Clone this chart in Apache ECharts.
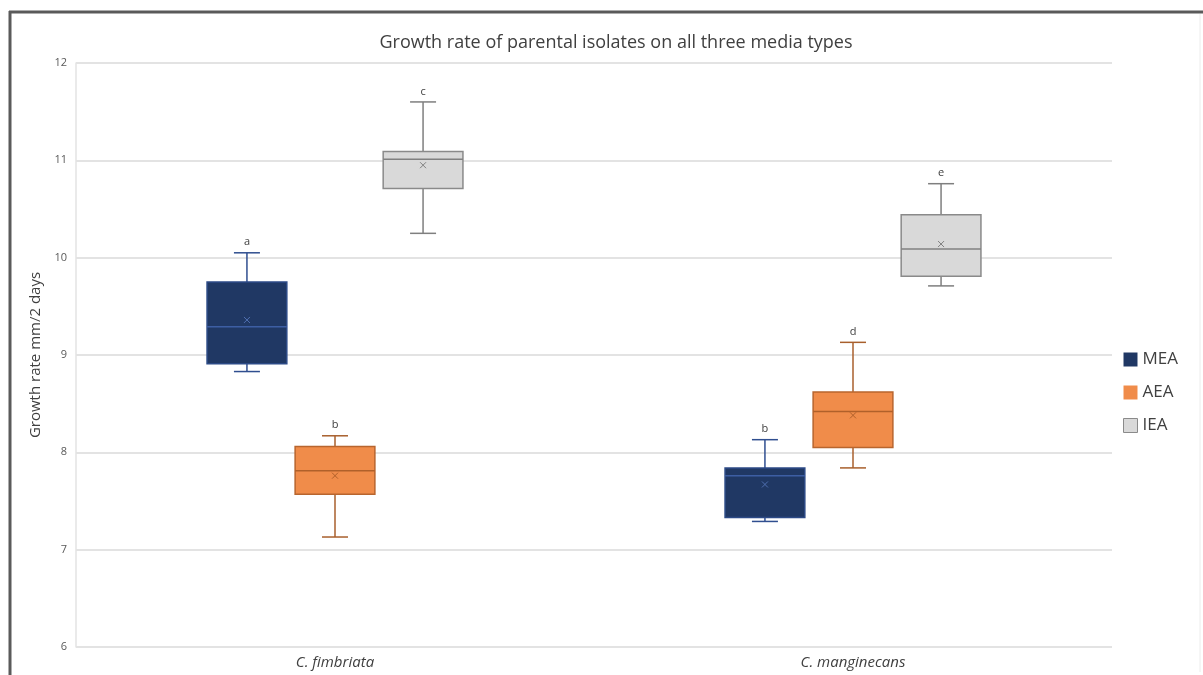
<!DOCTYPE html>
<html>
<head>
<meta charset="utf-8">
<script src="https://cdn.jsdelivr.net/npm/echarts@6/dist/echarts.min.js"></script>
<style>
  html, body { margin: 0; padding: 0; background: #fff; }
  #chart { width: 1203px; height: 675px; }
</style>
</head>
<body>
<div id="chart"></div>
<script>
// Species groups on the x axis
const categories = ['C. fimbriata', 'C. manginecans'];

// Box statistics per species: [min, Q1, median, Q3, max] in mm/2 days
const meaStats = [[8.83, 8.91, 9.29, 9.75, 10.05], [7.29, 7.33, 7.76, 7.84, 8.13]];
const aeaStats = [[7.13, 7.57, 7.81, 8.06, 8.17], [7.84, 8.05, 8.42, 8.62, 9.13]];
const ieaStats = [[10.25, 10.71, 11.01, 11.09, 11.60], [9.71, 9.81, 10.09, 10.44, 10.76]];

// Means (x markers)
const meaMeans = [9.36, 7.67];
const aeaMeans = [7.76, 8.38];
const ieaMeans = [10.95, 10.14];

// Significance letters above each box
const meaLetters = ['a', 'b'];
const aeaLetters = ['b', 'd'];
const ieaLetters = ['c', 'e'];

// Y axis ticks
const yTicks = [6, 7, 8, 9, 10, 11, 12];

function rows(stats, means, letters) {
  return stats.map((s, i) => [i, s[0], s[1], s[2], s[3], s[4], means[i], letters[i]]);
}

function boxRenderer(offsetFrac, st) {
  return function (params, api) {
    const cat = api.value(0);
    const band = api.size([1, 0])[0];
    const cx = api.coord([cat, 0])[0] + band * offsetFrac;
    const w = band * 0.154;
    const cap = 26;
    const y = k => api.coord([cat, api.value(k)])[1];
    const yMin = y(1), yQ1 = y(2), yMed = y(3), yQ3 = y(4), yMax = y(5), yMean = y(6);
    const letter = api.value(7);
    const ws = { stroke: st.whisker, lineWidth: 1.5 };
    const m = 3;
    return {
      type: 'group',
      children: [
        { type: 'line', shape: { x1: cx, y1: yMax, x2: cx, y2: yQ3 }, style: ws },
        { type: 'line', shape: { x1: cx, y1: yQ1, x2: cx, y2: yMin }, style: ws },
        { type: 'line', shape: { x1: cx - cap / 2, y1: yMax, x2: cx + cap / 2, y2: yMax }, style: ws },
        { type: 'line', shape: { x1: cx - cap / 2, y1: yMin, x2: cx + cap / 2, y2: yMin }, style: ws },
        { type: 'rect', shape: { x: cx - w / 2, y: yQ3, width: w, height: yQ1 - yQ3 },
          style: { fill: st.fill, stroke: st.border, lineWidth: 1.5 } },
        { type: 'line', shape: { x1: cx - w / 2, y1: yMed, x2: cx + w / 2, y2: yMed },
          style: { stroke: st.median, lineWidth: 1.5 } },
        { type: 'line', shape: { x1: cx - m, y1: yMean - m, x2: cx + m, y2: yMean + m },
          style: { stroke: st.mean, lineWidth: 1 } },
        { type: 'line', shape: { x1: cx - m, y1: yMean + m, x2: cx + m, y2: yMean - m },
          style: { stroke: st.mean, lineWidth: 1 } },
        { type: 'text', x: cx, y: yMax - 5,
          style: { text: letter, fill: '#404040', font: '11px "Open Sans", sans-serif',
                   align: 'center', verticalAlign: 'bottom' } }
      ]
    };
  };
}

const styles = {
  MEA: { fill: '#203864', border: '#2c4a86', whisker: '#2f4e8f', median: '#3d5ea3', mean: '#4f6fb0' },
  AEA: { fill: '#f08c4a', border: '#b8652e', whisker: '#a85f2c', median: '#b0602a', mean: '#b0602a' },
  IEA: { fill: '#d9d9d9', border: '#8a8a8a', whisker: '#7f7f7f', median: '#808080', mean: '#808080' }
};

const chart = echarts.init(document.getElementById('chart'));
chart.setOption({
  backgroundColor: '#ffffff',
  animation: false,
  title: {
    text: 'Growth rate of parental isolates on all three media types',
    left: 611, top: 29, textAlign: 'center',
    textStyle: { fontFamily: 'Open Sans', fontSize: 18, fontWeight: 'normal', color: '#404040' }
  },
  legend: {
    orient: 'vertical', left: 1118, top: 345,
    itemWidth: 14, itemHeight: 14, itemGap: 14, icon: 'rect',
    textStyle: { fontFamily: 'Open Sans', fontSize: 17, lineHeight: 19, color: '#404040' },
    data: [
      { name: 'MEA', itemStyle: { color: styles.MEA.fill } },
      { name: 'AEA', itemStyle: { color: styles.AEA.fill } },
      { name: 'IEA', itemStyle: { color: styles.IEA.fill, borderColor: '#8a8a8a', borderWidth: 1 } }
    ]
  },
  grid: { left: 76, right: 91, top: 63, bottom: 28 },
  xAxis: {
    type: 'category', data: categories,
    axisLine: { show: false }, axisTick: { show: false },
    axisLabel: { fontFamily: 'Open Sans', fontStyle: 'italic', fontSize: 15, color: '#404040', margin: 8 }
  },
  yAxis: {
    type: 'value', min: yTicks[0], max: yTicks[yTicks.length - 1], interval: 1,
    name: 'Growth rate mm/2 days', nameLocation: 'middle', nameGap: 33,
    nameTextStyle: { fontFamily: 'Open Sans', fontSize: 15, color: '#404040' },
    axisLine: { show: true, lineStyle: { color: '#e3e3e3', width: 1.5 } },
    axisTick: { show: false },
    axisLabel: { fontFamily: 'Open Sans', fontSize: 11, color: '#595959', margin: 9 },
    splitLine: { lineStyle: { color: '#dadada', width: 1.5 } }
  },
  series: [
    { name: 'MEA', type: 'custom', itemStyle: { color: styles.MEA.fill },
      renderItem: boxRenderer(-0.17, styles.MEA),
      encode: { x: 0, y: [1, 2, 3, 4, 5] }, data: rows(meaStats, meaMeans, meaLetters) },
    { name: 'AEA', type: 'custom', itemStyle: { color: styles.AEA.fill },
      renderItem: boxRenderer(0, styles.AEA),
      encode: { x: 0, y: [1, 2, 3, 4, 5] }, data: rows(aeaStats, aeaMeans, aeaLetters) },
    { name: 'IEA', type: 'custom', itemStyle: { color: styles.IEA.fill },
      renderItem: boxRenderer(0.17, styles.IEA),
      encode: { x: 0, y: [1, 2, 3, 4, 5] }, data: rows(ieaStats, ieaMeans, ieaLetters) }
  ],
  graphic: [
    // outer frame
    { type: 'line', shape: { x1: 9, y1: 12, x2: 1203, y2: 12 }, style: { stroke: '#5a5a5a', lineWidth: 3 } },
    { type: 'line', shape: { x1: 10, y1: 11, x2: 10, y2: 675 }, style: { stroke: '#5a5a5a', lineWidth: 3 } },
    { type: 'line', shape: { x1: 1200, y1: 14, x2: 1200, y2: 672 }, style: { stroke: '#ececec', lineWidth: 1 } }
  ]
});
</script>
</body>
</html>
